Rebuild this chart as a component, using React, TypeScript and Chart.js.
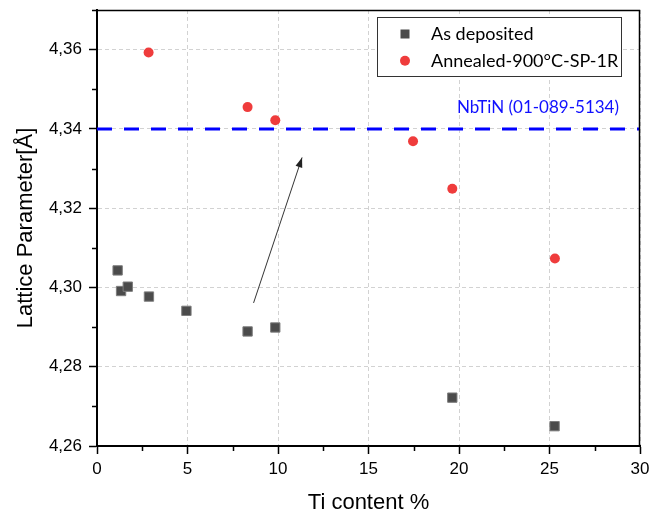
import React, { useEffect, useRef } from 'react';
import { Chart, registerables } from 'chart.js';

Chart.register(...registerables);

// ---- data ----
const SERIES_LABELS = ['As deposited', 'Annealed-900°C-SP-1R'];
const AS_DEP_X = [1.14, 1.33, 1.70, 2.87, 4.94, 8.32, 9.85, 19.63, 25.28];
const AS_DEP_Y = [4.3043, 4.2991, 4.3002, 4.2977, 4.2941, 4.2889, 4.2899, 4.2722, 4.2650];
const ANN_X = [2.85, 8.32, 9.85, 17.46, 19.63, 25.30];
const ANN_Y = [4.3593, 4.3455, 4.3422, 4.3369, 4.3249, 4.3073];
const REF_LABEL = 'NbTiN (01-089-5134)';
const REF_X = [0, 30];
const REF_Y = [4.34, 4.34];
const ARROW_X = [8.65, 11.33];
const ARROW_Y = [4.2961, 4.3328];
const X_MAJOR = [0, 5, 10, 15, 20, 25, 30];
const X_MINOR = [2.5, 7.5, 12.5, 17.5, 22.5, 27.5];
const Y_MAJOR = [4.26, 4.28, 4.30, 4.32, 4.34, 4.36];
const Y_MINOR = [4.27, 4.29, 4.31, 4.33, 4.35, 4.37];
const X_RANGE = [0, 30];
const Y_RANGE = [4.26, 4.37];
const X_TITLE = 'Ti content %';
const Y_TITLE = 'Lattice Parameter[Å]';

const SQUARE_COLOR = '#4b4b4b';
const SQUARE_EDGE = '#7d7d7d';
const RED_COLOR = '#ef3c3c';
const LEGEND_FONT = '"Lato", "Open Sans", sans-serif';
const AXIS_FONT = '"Liberation Sans", Arial, sans-serif';

const zip = (xs: number[], ys: number[]) => xs.map((x, i) => ({ x, y: ys[i] }));
const isIn = (v: number, list: number[]) => list.some((m) => Math.abs(m - v) < 1e-6);

const decorPlugin = {
  id: 'decor',
  afterDraw(chart: any) {
    const { ctx, chartArea: ca, scales } = chart;
    const xs = scales.x;
    const ys = scales.y;
    ctx.save();

    // frame top + right
    ctx.strokeStyle = '#000';
    ctx.lineWidth = 1.5;
    ctx.beginPath();
    ctx.moveTo(ca.left, ca.top + 0.5);
    ctx.lineTo(ca.right - 0.5, ca.top + 0.5);
    ctx.lineTo(ca.right - 0.5, ca.bottom);
    ctx.stroke();

    // minor ticks
    ctx.lineWidth = 1.5;
    ctx.beginPath();
    X_MINOR.forEach((v) => {
      const px = Math.round(xs.getPixelForValue(v)) + 0.5;
      ctx.moveTo(px, ca.bottom);
      ctx.lineTo(px, ca.bottom + 5);
    });
    Y_MINOR.forEach((v) => {
      const py = Math.round(ys.getPixelForValue(v)) + 0.5;
      ctx.moveTo(ca.left, py);
      ctx.lineTo(ca.left - 5, py);
    });
    ctx.stroke();

    // arrow head
    const x1 = xs.getPixelForValue(ARROW_X[0]);
    const y1 = ys.getPixelForValue(ARROW_Y[0]);
    const x2 = xs.getPixelForValue(ARROW_X[1]);
    const y2 = ys.getPixelForValue(ARROW_Y[1]);
    const ang = Math.atan2(y2 - y1, x2 - x1);
    const hl = 10;
    const hw = 3.5;
    ctx.fillStyle = '#222';
    ctx.beginPath();
    ctx.moveTo(x2, y2);
    ctx.lineTo(x2 - hl * Math.cos(ang) + hw * Math.sin(ang), y2 - hl * Math.sin(ang) - hw * Math.cos(ang));
    ctx.lineTo(x2 - hl * Math.cos(ang) - hw * Math.sin(ang), y2 - hl * Math.sin(ang) + hw * Math.cos(ang));
    ctx.closePath();
    ctx.fill();

    // reference label
    const refY = ys.getPixelForValue(REF_Y[0]);
    ctx.fillStyle = '#1010ff';
    ctx.font = '17px ' + LEGEND_FONT;
    ctx.textAlign = 'right';
    ctx.textBaseline = 'alphabetic';
    ctx.fillText(REF_LABEL, ca.right - 21, refY - 15.5);

    // legend
    const bx = Math.round(ca.right - 263);
    const by = Math.round(ca.top + 7);
    const bw = 244;
    const bh = 59;
    ctx.fillStyle = '#fff';
    ctx.fillRect(bx, by, bw, bh);
    ctx.strokeStyle = '#333';
    ctx.lineWidth = 1;
    ctx.strokeRect(bx + 0.5, by + 0.5, bw, bh);
    const rows = [by + 17, by + 43.7];
    const mx = bx + 28;
    ctx.fillStyle = SQUARE_COLOR;
    ctx.fillRect(mx - 4.5, rows[0] - 4.5, 9, 9);
    ctx.fillStyle = RED_COLOR;
    ctx.beginPath();
    ctx.arc(mx, rows[1], 5, 0, Math.PI * 2);
    ctx.fill();
    ctx.fillStyle = '#000';
    ctx.font = '18px ' + LEGEND_FONT;
    ctx.textAlign = 'left';
    ctx.fillText(chart.data.datasets[0].label, bx + 54, rows[0] + 6);
    ctx.fillText(chart.data.datasets[1].label, bx + 54, rows[1] + 6);

    ctx.restore();
  },
};

function makeScale(major: number[], minor: number[], range: number[], title: string, fmt: (v: number) => string, axis: 'x' | 'y') {
  return {
    type: 'linear',
    position: axis === 'x' ? 'bottom' : 'left',
    min: range[0],
    max: range[1],
    afterBuildTicks: (scale: any) => {
      const vals = [...major, ...minor].sort((a, b) => a - b);
      scale.ticks = vals.map((v) => ({ value: v }));
    },
    afterFit: (scale: any) => {
      if (axis === 'x') scale.height = 72;
      else scale.width = 97;
      scale.paddingTop = 0;
      scale.paddingBottom = 0;
      scale.paddingLeft = 0;
      scale.paddingRight = 0;
    },
    grid: {
      color: (c: any) => (c.tick && isIn(c.tick.value, major) ? '#d2d2d2' : 'rgba(0,0,0,0)'),
      lineWidth: 1,
      tickColor: (c: any) => (c.tick && isIn(c.tick.value, major) ? '#000' : 'rgba(0,0,0,0)'),
      tickLength: 8,
      tickWidth: 1.5,
    },
    border: { display: true, color: '#000', width: 2, dash: [4, 3] },
    ticks: {
      autoSkip: false,
      maxRotation: 0,
      padding: axis === 'x' ? 5 : 7,
      color: '#000',
      font: { family: AXIS_FONT, size: 17 },
      callback: (v: any) => (isIn(Number(v), major) ? fmt(Number(v)) : ''),
    },
    title: {
      display: true,
      text: title,
      color: '#000',
      font: { family: AXIS_FONT, size: 22 },
      padding: axis === 'x' ? { top: 0, bottom: 2 } : { top: 13, bottom: 0 },
    },
  };
}

export default function App() {
  const ref = useRef<HTMLCanvasElement>(null);
  useEffect(() => {
    if (!ref.current) return;
    const chart = new Chart(ref.current, {
      type: 'scatter',
      data: {
        datasets: [
          {
            label: SERIES_LABELS[0],
            data: zip(AS_DEP_X, AS_DEP_Y),
            pointStyle: 'rect',
            pointRadius: 6.6,
            backgroundColor: SQUARE_COLOR,
            borderColor: SQUARE_EDGE,
            borderWidth: 1,
          },
          {
            label: SERIES_LABELS[1],
            data: zip(ANN_X, ANN_Y),
            pointStyle: 'circle',
            pointRadius: 5,
            backgroundColor: RED_COLOR,
            borderColor: RED_COLOR,
            borderWidth: 0,
          },
          {
            type: 'line',
            label: REF_LABEL,
            data: zip(REF_X, REF_Y),
            showLine: true,
            borderColor: '#0000ff',
            borderWidth: 3,
            borderDash: [15, 12],
            pointRadius: 0,
            fill: false,
          },
          {
            type: 'line',
            label: 'arrow',
            data: zip(ARROW_X, ARROW_Y),
            showLine: true,
            borderColor: '#333',
            borderWidth: 1,
            pointRadius: 0,
            fill: false,
          },
        ],
      } as any,
      options: {
        responsive: false,
        animation: false,
        devicePixelRatio: 1,
        layout: { padding: { top: 10, right: 9, left: 0, bottom: 0 } },
        plugins: {
          legend: { display: false },
          tooltip: { enabled: false },
        },
        scales: {
          x: makeScale(X_MAJOR, X_MINOR, X_RANGE, X_TITLE, (v) => String(v), 'x'),
          y: makeScale(Y_MAJOR, Y_MINOR, Y_RANGE, Y_TITLE, (v) => v.toFixed(2).replace('.', ','), 'y'),
        } as any,
      },
      plugins: [decorPlugin],
    });
    return () => chart.destroy();
  }, []);
  return (
    <div style={{ position: 'absolute', left: 0, top: 0, width: 649, height: 518, background: '#fff' }}>
      <canvas ref={ref} width={649} height={518} style={{ width: 649, height: 518, display: 'block' }} />
    </div>
  );
}
